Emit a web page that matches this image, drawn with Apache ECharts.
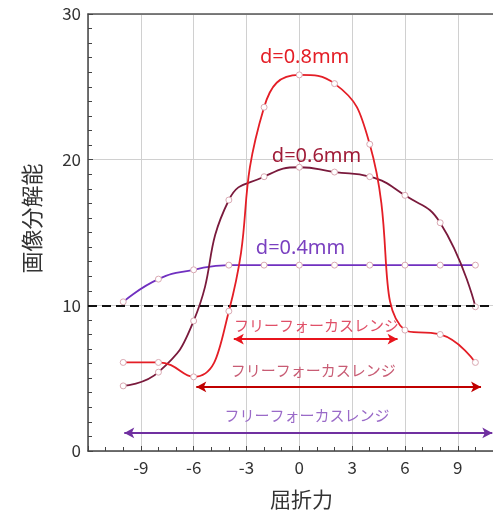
<!DOCTYPE html>
<html><head><meta charset="utf-8">
<script src="https://cdn.jsdelivr.net/npm/echarts@6/dist/echarts.min.js"></script>
<style>html,body{margin:0;padding:0;background:#fff}#c{width:493px;height:511px}</style>
</head><body><div id="c"></div>
<script>
// Data
const xs = [-10, -8, -6, -4, -2, 0, 2, 4, 6, 8, 10];
const d04 = [10.24, 11.8, 12.44, 12.76, 12.76, 12.76, 12.76, 12.76, 12.76, 12.76, 12.76];
const d06 = [4.47, 5.41, 8.93, 17.23, 18.83, 19.48, 19.15, 18.83, 17.55, 15.67, 9.9];
const d08 = [6.08, 6.08, 5.09, 9.6, 23.6, 25.82, 25.22, 21.06, 8.3, 8.0, 6.08];
const seriesNames = ['d=0.4mm', 'd=0.6mm', 'd=0.8mm'];
const seriesLabelPos = [[0.07, 13.93], [0.98, 20.2], [0.3, 27.0]];
const threshold = 10;
const rangeText = 'フリーフォーカスレンジ';
const rangeArrows = [ // [xStart, xEnd, y]
  [-3.72, 5.58, 7.68],
  [-5.85, 10.32, 4.4],
  [-9.94, 10.96, 1.24]
];
const rangeLabelPos = [[0.98, 8.63], [0.79, 5.55], [0.44, 2.45]];
const xTicks = {min: -12, max: 11, interval: 3};
const yTicks = {min: 0, max: 30, interval: 10};

const FONT = '"Noto Sans CJK JP", "Noto Sans", sans-serif';
const LATIN = '"Noto Sans", "Noto Sans CJK JP", sans-serif';
const lineColors = ['#7030c0', '#7a1a3c', '#e41e26'];
const labelColors = ['#7a40c0', '#a01c38', '#e41e26'];
const arrowColors = ['#e8141c', '#c00000', '#7030a0'];
const rangeLabelColors = ['#e05068', '#c85c74', '#9a6ac8'];

const pairs = arr => xs.map((x, i) => [x, arr[i]]);
const dataSets = [d04, d06, d08];

const series = dataSets.map((arr, k) => ({
  type: 'line',
  name: seriesNames[k],
  data: pairs(arr),
  smooth: 0.5,
  symbol: 'circle',
  symbolSize: 6,
  showAllSymbol: true,
  z: 3 + k,
  lineStyle: {color: lineColors[k], width: 1.8},
  itemStyle: {color: '#fff', borderColor: '#d9a8b2', borderWidth: 1},
  emphasis: {disabled: true},
  markPoint: {
    symbol: 'circle', symbolSize: 0, silent: true,
    label: {show: true, position: 'inside', formatter: '{b}', color: labelColors[k], fontSize: 20, fontFamily: LATIN},
    data: [{name: seriesNames[k], coord: seriesLabelPos[k]}]
  }
}));

// threshold dashed line + arrows + range labels
series.push({
  type: 'line', data: [], silent: true,
  markLine: {
    silent: true, symbol: 'none',
    label: {show: false},
    lineStyle: {color: '#111', width: 2.2, type: [9, 5]},
    data: [{yAxis: threshold}]
  }
});
rangeArrows.forEach((a, k) => {
  series.push({
    type: 'line', data: [], silent: true,
    markLine: {
      silent: true, symbol: ['arrow', 'arrow'], symbolSize: [8, 10],
      label: {show: false},
      lineStyle: {color: arrowColors[k], width: 2, type: 'solid'},
      data: [[{coord: [a[0], a[2]]}, {coord: [a[1], a[2]]}]]
    },
    markPoint: {
      symbol: 'circle', symbolSize: 0, silent: true,
      label: {show: true, position: 'inside', formatter: '{b}', color: rangeLabelColors[k], fontSize: 15, fontFamily: FONT},
      data: [{name: rangeText, coord: rangeLabelPos[k]}]
    }
  });
});

const chart = echarts.init(document.getElementById('c'), null, {renderer: 'canvas'});
chart.setOption({
  animation: false,
  textStyle: {fontFamily: FONT},
  grid: {left: 88, right: 0, top: 14, bottom: 60, containLabel: false, outerBoundsMode: 'none'},
  xAxis: [{
    type: 'value', min: xTicks.min, max: xTicks.max, interval: xTicks.interval,
    name: '屈折力', nameLocation: 'middle', nameGap: 38,
    nameTextStyle: {fontSize: 21, color: '#333', fontFamily: FONT, padding: [0, 0, 0, 22]},
    axisLine: {show: true, onZero: false, lineStyle: {color: '#444', width: 1.5}},
    axisTick: {show: true, inside: true, length: 5, lineStyle: {color: '#444'}},
    minorTick: {show: true, splitNumber: 3, length: 4, lineStyle: {color: '#444'}},
    axisLabel: {fontSize: 17, color: '#333', margin: 8, showMinLabel: false, showMaxLabel: false, fontFamily: FONT},
    splitLine: {show: true, lineStyle: {color: '#d0d0d0', width: 1}}
  }, {
    type: 'value', position: 'top', min: xTicks.min, max: xTicks.max,
    axisLine: {show: true, onZero: false, lineStyle: {color: '#555', width: 1.5}},
    axisTick: {show: false}, axisLabel: {show: false}, splitLine: {show: false}
  }],
  yAxis: {
    type: 'value', min: yTicks.min, max: yTicks.max, interval: yTicks.interval,
    name: '画像分解能', nameLocation: 'middle', nameGap: 45, nameRotate: 90,
    nameTextStyle: {fontSize: 22, color: '#333', fontFamily: FONT, padding: [0, 0, 0, 28]},
    axisLine: {show: true, onZero: false, lineStyle: {color: '#444', width: 1.5}},
    axisTick: {show: true, inside: true, length: 5, lineStyle: {color: '#444'}},
    minorTick: {show: true, splitNumber: 10, length: 4, lineStyle: {color: '#444'}},
    axisLabel: {fontSize: 17, color: '#333', margin: 7, fontFamily: FONT},
    splitLine: {show: true, lineStyle: {color: '#d0d0d0', width: 1}}
  },
  series: series
});
</script></body></html>
